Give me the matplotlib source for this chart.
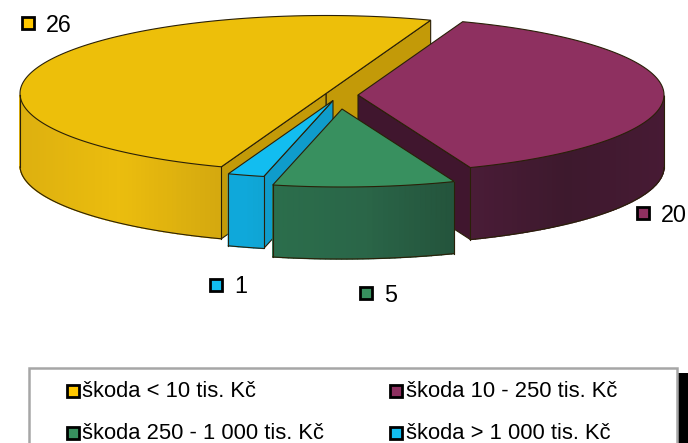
"""
Exploded 3D pie of damage classes, drawn by hand since matplotlib has no 3D pie.
"""

import numpy as np
import matplotlib
matplotlib.use('Agg')
import matplotlib.pyplot as plt
from matplotlib.colors import to_rgb
from matplotlib.patches import Polygon, Rectangle

plt.rcParams['font.family'] = ['Liberation Sans', 'DejaVu Sans']

# data
slice_names = ['škoda < 10 tis. Kč', 'škoda 10 - 250 tis. Kč',
               'škoda 250 - 1 000 tis. Kč', 'škoda > 1 000 tis. Kč']
slice_values = [26, 20, 5, 1]

# styles, same order as the data
top_colors = ['#EDBF0A', '#8E3060', '#38905F', '#12BDF0']
face_colors = ['#C39A08', '#40162E', '#2A6A48', '#0F9CCB']
marker_colors = ['#FFC800', '#8E3060', '#38905F', '#12BDF0']
# curved side colour at its left end, middle and right end
side_stops = [('#DDB00F', '#EBBD0E', '#D4A80F'),
              ('#4A1C37', '#3D192D', '#471A34'),
              ('#2B6E4C', '#2A6648', '#24543C'),
              ('#0FA8DA', '#0FA8DA', '#0FA4D4')]

# layout in image pixels
WIDTH, HEIGHT = 688, 443
RX, RY, DEPTH = 306, 78, 72
START_ANGLE = 250
slice_centers = [(326, 93.5), (358, 95), (342, 109), (333, 100.5)]
# marker x, marker y, text x, text baseline
value_label_pos = [(28, 23, 46, 32), (643, 213, 661, 222), (366, 293, 384, 302), (215.5, 285, 234, 293)]
legend_pos = [(72.5, 390.5), (396, 390.5), (72.5, 433), (396, 433)]
draw_order = [0, 1, 3, 2]
LABEL_FONT = 16.8
LEGEND_FONT = 15.8
LINE = '#2a2008'


def side_color(stops, f):
    a, b, c = [np.array(to_rgb(s)) for s in stops]
    if f < 0.5:
        return tuple(a + (b - a) * f * 2)
    return tuple(b + (c - b) * (f - 0.5) * 2)


def rim(cx, cy, t):
    return cx + RX * np.cos(np.radians(t)), cy - RY * np.sin(np.radians(t))


def draw_slice(ax, center, lo, hi, top, stops, face):
    cx, cy = center
    edge = {'edgecolor': LINE, 'linewidth': 0.8}

    # flat cut faces, only the ones looking towards the viewer
    for t, visible in ((lo, np.cos(np.radians(lo)) > 0), (hi, np.cos(np.radians(hi)) < 0)):
        if visible:
            x, y = rim(cx, cy, t)
            ax.add_patch(Polygon([(cx, cy), (x, y), (x, y + DEPTH), (cx, cy + DEPTH)], facecolor=face, **edge))

    # curved side as thin strips, only the front of the rim
    steps = np.arange(lo, hi + 1, 1.0)
    steps[-1] = hi
    front = steps[np.sin(np.radians(steps)) <= 0]
    if len(front) > 1:
        xs, ys = rim(cx, cy, front)
        x_lo, x_hi = xs.min(), xs.max()
        for j in range(len(front) - 1):
            f = ((xs[j] + xs[j + 1]) / 2 - x_lo) / (x_hi - x_lo)
            c = side_color(stops, f)
            ax.add_patch(Polygon([(xs[j], ys[j]), (xs[j + 1], ys[j + 1]),
                                  (xs[j + 1], ys[j + 1] + DEPTH), (xs[j], ys[j] + DEPTH)],
                                 facecolor=c, edgecolor=c, linewidth=1.0))
        ax.plot(xs, ys + DEPTH, color=LINE, lw=0.8)
        for j in (0, -1):
            ax.plot([xs[j], xs[j]], [ys[j], ys[j] + DEPTH], color=LINE, lw=0.8)

    # top surface
    xs, ys = rim(cx, cy, steps)
    ax.add_patch(Polygon(np.column_stack([np.r_[cx, xs], np.r_[cy, ys]]), facecolor=top, **edge))


fig = plt.figure(figsize=(WIDTH / 100, HEIGHT / 100), dpi=100)
ax = fig.add_axes([0, 0, 1, 1])
ax.set_xlim(0, WIDTH)
ax.set_ylim(HEIGHT, 0)
ax.axis('off')

# angles run clockwise from the start angle
sweeps = 360 * np.array(slice_values) / sum(slice_values)
ends = START_ANGLE - np.cumsum(sweeps)
for i in draw_order:
    draw_slice(ax, slice_centers[i], ends[i], ends[i] + sweeps[i], top_colors[i], side_stops[i], face_colors[i])

# value labels
for value, color, (mx, my, tx, ty) in zip(slice_values, marker_colors, value_label_pos):
    ax.plot(mx, my, marker='s', ms=8, mfc=color, mec='black', mew=2)
    ax.text(tx, ty, str(value), fontsize=LABEL_FONT, va='baseline', ha='left', color='black')

# legend box, it runs off the bottom of the image
ax.add_patch(Rectangle((678, 373), 10, 80, facecolor='black', edgecolor='none'))
ax.add_patch(Rectangle((29, 367.5), 648, 90, facecolor='white', edgecolor='#A6A6A6', linewidth=1.8))
for name, color, (x, y) in zip(slice_names, marker_colors, legend_pos):
    ax.plot(x, y, marker='s', ms=8, mfc=color, mec='black', mew=2)
    ax.text(x + 9.5, y + 6.3, name, fontsize=LEGEND_FONT, va='baseline', ha='left', color='black')

fig.savefig('out.png', dpi=100)
